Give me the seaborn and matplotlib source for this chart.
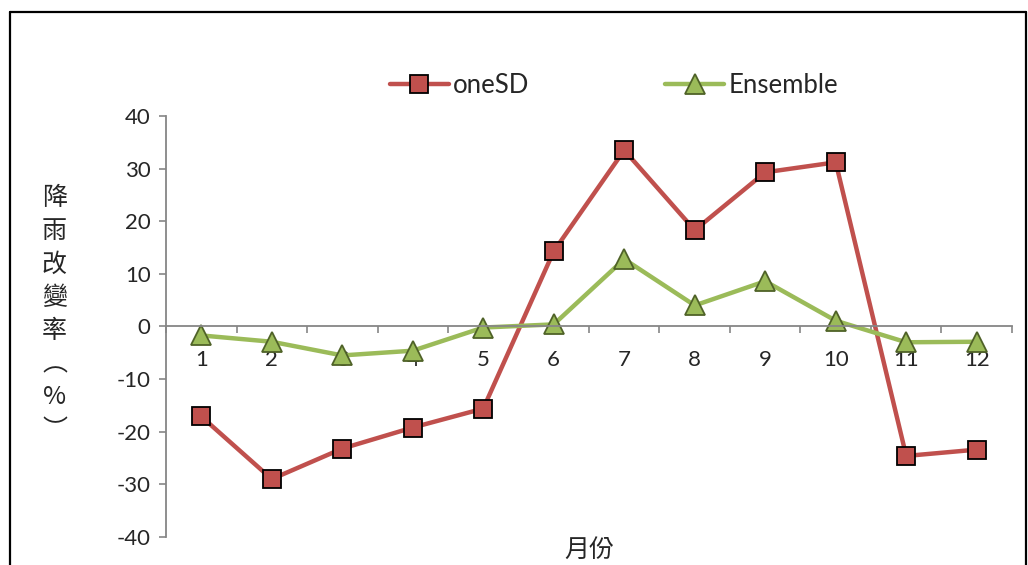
import numpy as np
import pandas as pd
import seaborn as sns
import matplotlib.pyplot as plt
from matplotlib.lines import Line2D

sns.set_theme(style="white")
plt.rcParams['font.family'] = ['Lato', 'Noto Sans CJK TC', 'DejaVu Sans']

# Data
months = [1, 2, 3, 4, 5, 6, 7, 8, 9, 10, 11, 12]
one_sd = [-17.1, -29.0, -23.2, -19.2, -15.6, 14.3, 33.5, 18.3, 29.3, 31.2, -24.6, -23.4]
ensemble = [-1.7, -2.9, -5.5, -4.6, -0.2, 0.4, 12.8, 4.0, 8.6, 1.1, -3.0, -2.9]
y_ticks = [-40, -30, -20, -10, 0, 10, 20, 30, 40]

df = pd.DataFrame({"month": months, "oneSD": one_sd, "Ensemble": ensemble})

fig = plt.figure(figsize=(10.28, 5.65), dpi=100)
ax = fig.add_axes([0.1615, 0.0496, 0.8229, 0.7451])

red = "#C0504D"
green = "#9BBB59"
axis_gray = "#868686"

sns.lineplot(data=df, x="month", y="oneSD", ax=ax, color=red, linewidth=3.2,
             marker="s", markersize=13, markerfacecolor=red,
             markeredgecolor="black", markeredgewidth=1.3, label="oneSD")
sns.lineplot(data=df, x="month", y="Ensemble", ax=ax, color=green, linewidth=3.2,
             marker="^", markersize=15, markerfacecolor=green,
             markeredgecolor="#4F6228", markeredgewidth=1.3, label="Ensemble")

ax.set_xlim(0.5, 12.5)
ax.set_ylim(-40, 40)
ax.set_yticks(y_ticks)
ax.set_yticklabels([str(v) for v in y_ticks])
ax.set_xticks(months)
ax.set_xticklabels([str(m) for m in months])
ax.set_xticks(np.arange(0.5, 13.0, 1.0), minor=True)

# axes like excel: x axis crosses at 0
ax.spines['top'].set_visible(False)
ax.spines['right'].set_visible(False)
ax.spines['bottom'].set_position(('data', 0))
ax.spines['bottom'].set_color(axis_gray)
ax.spines['left'].set_color(axis_gray)
ax.spines['bottom'].set_linewidth(1.3)
ax.spines['left'].set_linewidth(1.3)

ax.tick_params(axis='y', which='major', direction='out', length=5, width=1.2,
               color=axis_gray, labelsize=16, pad=6, left=True)
ax.tick_params(axis='x', which='major', length=0, labelsize=16, pad=17)
ax.tick_params(axis='x', which='minor', direction='out', length=5, width=1.2,
               color=axis_gray, bottom=True)

ax.set_xlabel("")
ax.set_ylabel("")
ax.grid(False)

# axis titles
fig.text(0.573, 0.027, "月份", ha='center', va='center', fontsize=18,
         family=['Noto Sans CJK TC', 'DejaVu Sans'])
fig.text(0.053, 0.444, "\n".join("降雨改變率︵%︶"), ha='center', va='center',
         fontsize=18, linespacing=1.36, family=['Noto Sans CJK TC', 'DejaVu Sans'])

# legend
ax.legend(loc='center', bbox_to_anchor=(0.597, 0.848), bbox_transform=fig.transFigure,
          ncol=2, frameon=False, fontsize=18.5, handlelength=2.3, handletextpad=0.15,
          columnspacing=5.3)

# outer chart border
fig.add_artist(Line2D([0.0097, 0.0097], [0.0, 0.9788], transform=fig.transFigure,
                      color="black", linewidth=1.6))
fig.add_artist(Line2D([0.0097, 0.998], [0.9788, 0.9788], transform=fig.transFigure,
                      color="black", linewidth=1.6))
fig.add_artist(Line2D([0.998, 0.998], [0.0, 0.9788], transform=fig.transFigure,
                      color="black", linewidth=1.6))

fig.savefig("out.png", dpi=100)
